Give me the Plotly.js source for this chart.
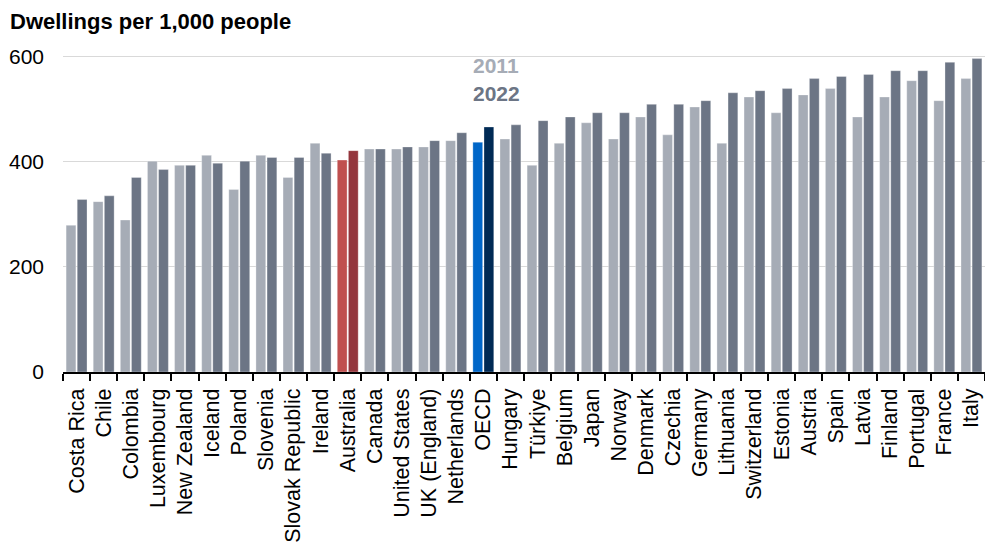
<!DOCTYPE html>
<html>
<head>
<meta charset="utf-8">
<script src="https://cdn.plot.ly/plotly-3.0.1.min.js"></script>
<style>html,body{margin:0;padding:0;background:#fff;}#chart{width:985px;height:542px;}</style>
</head>
<body>
<div id="chart"></div>
<script>
const categories = ["Costa Rica","Chile","Colombia","Luxembourg","New Zealand","Iceland","Poland","Slovenia","Slovak Republic","Ireland","Australia","Canada","United States","UK (England)","Netherlands","OECD","Hungary","Türkiye","Belgium","Japan","Norway","Denmark","Czechia","Germany","Lithuania","Switzerland","Estonia","Austria","Spain","Latvia","Finland","Portugal","France","Italy"];
const values2011 = [279,324,289,401,393,412,347,412,370,435,403,424,424,428,440,437,443,393,435,474,443,485,451,504,435,523,493,527,539,485,523,554,516,558];
const values2022 = [328,335,370,385,393,397,401,408,408,416,421,424,428,440,455,466,470,478,485,493,493,509,509,516,531,535,539,558,562,566,573,573,589,596];
const seriesNames = ["2011","2022"];

const baseColors = {"2011":"#a6acb6","2022":"#6c7585"};
const highlight = {
  "Australia": {"2011":"#c0504f","2022":"#94363d"},
  "OECD": {"2011":"#0066c8","2022":"#002a55"}
};
function colorsFor(series){
  return categories.map(c => highlight[c] ? highlight[c][series] : baseColors[series]);
}
const font = "Liberation Sans, Arial, sans-serif";

const traces = [values2011, values2022].map((vals, i) => ({
  type: "bar",
  name: seriesNames[i],
  x: categories,
  y: vals,
  marker: {color: colorsFor(seriesNames[i]), line: {color: "rgba(255,255,255,0.5)", width: 0.6}},
  hoverinfo: "x+y+name"
}));

const layout = {
  width: 985, height: 542,
  margin: {l: 63, r: 0, t: 45.5, b: 170.3},
  paper_bgcolor: "#fff", plot_bgcolor: "#fff",
  barmode: "group", bargap: 0.18, bargroupgap: 0.12,
  showlegend: false,
  font: {family: font, size: 21, color: "#000"},
  title: {text: "<b>Dwellings per 1,000 people</b>", font: {family: font, size: 22, color: "#000"},
          x: 10/985, xref: "container", xanchor: "left", y: 1 - 21/542, yref: "container", yanchor: "middle"},
  xaxis: {type: "category", tickangle: -90, showline: true, linecolor: "#000", linewidth: 2,
          ticks: "outside", tickson: "boundaries", ticklen: 7, tickwidth: 2, tickcolor: "#000",
          ticklabelstandoff: 6, tickfont: {family: font, size: 21.5, color: "#000"}, showgrid: false},
  yaxis: {range: [0, 620], tickvals: [0,200,400,600], showgrid: true, gridcolor: "#d9d9d9", gridwidth: 1,
          zeroline: false, ticks: "", ticklabelstandoff: 18, tickfont: {family: font, size: 21, color: "#000"}},
  annotations: [
    {text: "<b>2011</b>", xref: "paper", yref: "y", x: (496-63)/922, y: 582, xanchor: "center", yanchor: "middle", showarrow: false, font: {family: font, size: 21, color: baseColors["2011"]}},
    {text: "<b>2022</b>", xref: "paper", yref: "y", x: (496-63)/922, y: 529, xanchor: "center", yanchor: "middle", showarrow: false, font: {family: font, size: 21, color: baseColors["2022"]}}
  ]
};
Plotly.newPlot("chart", traces, layout, {displayModeBar: false, staticPlot: true});
</script>
</body>
</html>
